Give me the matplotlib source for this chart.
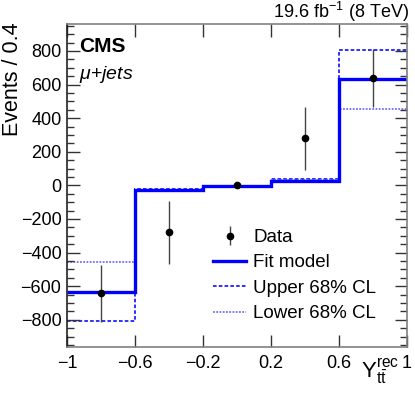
import numpy as np
import matplotlib.pyplot as plt
from matplotlib.lines import Line2D
from matplotlib.ticker import MultipleLocator

plt.rcParams["font.family"] = ["Liberation Sans", "DejaVu Sans"]
plt.rcParams["mathtext.fontset"] = "custom"
plt.rcParams["mathtext.rm"] = "Liberation Sans"
plt.rcParams["mathtext.it"] = "Liberation Sans:italic"

edges = [-1.0, -0.6, -0.2, 0.2, 0.6, 1.0]
fit_model = [-632, -27, -3, 25, 633]
upper_cl = [-805, -20, -3, 35, 805]
lower_cl = [-458, -35, -3, 30, 456]
data_x = [-0.8, -0.4, 0.0, 0.4, 0.8]
data_y = [-642, -279, 0, 279, 640]
data_err = [170, 188, 8, 190, 172]

fig = plt.figure(figsize=(4.15, 3.99), dpi=100)
ax = fig.add_axes([0.1614, 0.131, 0.8193, 0.8088])

ax.stairs(upper_cl, edges, color="#2020ff", lw=1.3, ls=(0, (2, 1.2)), baseline=None)
ax.stairs(lower_cl, edges, color="#7070ff", lw=1.3, ls=(0, (1, 0.8)), baseline=None)
ax.stairs(fit_model, edges, color="#0000ff", lw=2.4, baseline=None)
data_art = ax.errorbar(data_x, data_y, yerr=data_err, fmt="o", color="black", ms=4.5,
                       ecolor="#444444", elinewidth=1, capsize=0)

ax.set_xlim(-1, 1)
ax.set_ylim(-960, 960)
ax.yaxis.set_minor_locator(MultipleLocator(50))
ax.set_xticks([-1, -0.6, -0.2, 0.2, 0.6, 1])
ax.set_xticklabels(["\u22121", "\u22120.6", "\u22120.2", "0.2", "0.6", "1"])
yt = np.arange(-800, 801, 200)
ax.set_yticks(yt)
ax.set_yticklabels([str(v).replace("-", "\u2212") for v in yt])
ax.tick_params(which="both", direction="in", top=True, right=True, labelsize=13)
ax.tick_params(which="major", length=9, width=1, color="#333333")
ax.tick_params(which="minor", length=5, width=1, color="#333333")
ax.tick_params(axis="x", pad=6)
ax.tick_params(axis="y", pad=4)
for side in ["top", "right", "bottom"]:
    ax.spines[side].set_color("#808080")
ax.spines["left"].set_color("#222222")
for s in ax.spines.values():
    s.set_linewidth(1.2)

ax.set_ylabel("Events / 0.4", fontsize=15.5, loc="top")
ax.yaxis.set_label_coords(-0.128, 1.005)
fig.text(0.963, 0.032, r"$\Upsilon_{\mathrm{t\bar{t}}}^{\mathrm{rec}}$", fontsize=16,
         ha="right", va="bottom")
fig.text(0.985, 0.94, r"19.6 fb$^{\mathrm{-1}}$ (8 TeV)", fontsize=13,
         ha="right", va="bottom")
ax.text(0.035, 0.96, "CMS", transform=ax.transAxes, fontsize=15, fontweight="bold",
        ha="left", va="top")
ax.text(0.035, 0.875, r"$\mu$+$\it{jets}$", transform=ax.transAxes, fontsize=14,
        ha="left", va="top")

handles = [
    data_art,
    Line2D([], [], color="#0000ff", lw=2.4),
    Line2D([], [], color="#2020ff", lw=1.3, ls=(0, (2, 1.2))),
    Line2D([], [], color="#7070ff", lw=1.3, ls=(0, (1, 0.8))),
]
labels = ["Data", "Fit model", "Upper 68% CL", "Lower 68% CL"]
ax.legend(handles, labels, loc="upper left", bbox_to_anchor=(0.43, 0.365), frameon=False,
          fontsize=13.5, handlelength=1.75, handletextpad=0.4, labelspacing=0.44,
          borderaxespad=0, borderpad=0)

fig.savefig("out.png", dpi=100)
